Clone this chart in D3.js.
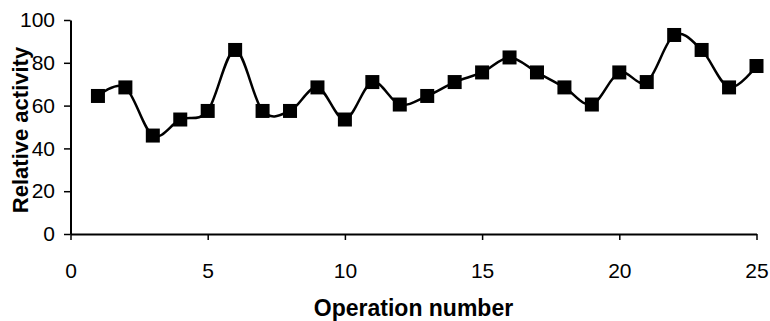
<!DOCTYPE html>
<html>
<head>
<meta charset="utf-8">
<script src="https://cdn.jsdelivr.net/npm/d3@7"></script>
<style>
  html, body { margin: 0; padding: 0; background: #fff; }
  svg { display: block; }
</style>
</head>
<body>
<svg id="chart" width="770" height="321"></svg>
<script>
const operations = [1,2,3,4,5,6,7,8,9,10,11,12,13,14,15,16,17,18,19,20,21,22,23,24,25];
const activity = [64.5,68.5,46,53.5,57.5,86,57.5,57.5,68.5,53.5,71,60.5,64.5,71,75.5,82.5,75.5,68.5,60.5,75.5,71,93,86,68.5,78.5];
const xTicks = [0,5,10,15,20,25];
const yTicks = [0,20,40,60,80,100];
const xTitle = "Operation number";
const yTitle = "Relative activity";

(function () {
const data = operations.map((o, i) => ({x: o, y: activity[i]}));

const svg = d3.select("#chart");
const pLeft = 70.5, pRight = 756.5, pTop = 20, pBottom = 234;

const x = d3.scaleLinear().domain([0, 25]).range([pLeft, pRight]);
const y = d3.scaleLinear().domain([0, 100]).range([pBottom, pTop]);

const font = "'Liberation Sans', Arial, sans-serif";

const xAxis = svg.append("g")
  .attr("transform", `translate(0,${pBottom})`)
  .call(d3.axisBottom(x).tickValues(xTicks).tickSize(6).tickPadding(23).tickSizeOuter(0).tickFormat(d3.format("d")));
const yAxis = svg.append("g")
  .attr("transform", `translate(${pLeft},0)`)
  .call(d3.axisLeft(y).tickValues(yTicks).tickSize(6.5).tickPadding(9).tickSizeOuter(0).tickFormat(d3.format("d")));

[xAxis, yAxis].forEach(g => {
  g.select(".domain").attr("stroke", "#000").attr("stroke-width", 2);
  g.selectAll(".tick line").attr("stroke", "#000").attr("stroke-width", 1.5);
  g.selectAll(".tick text").attr("fill", "#000").style("font-family", font).style("font-size", "21px");
});

const line = d3.line()
  .x(d => x(d.x))
  .y(d => y(d.y))
  .curve(d3.curveCardinal.tension(0));

svg.append("path")
  .datum(data)
  .attr("fill", "none")
  .attr("stroke", "#000")
  .attr("stroke-width", 2.5)
  .attr("d", line);

const s = 14;
svg.append("g").selectAll("rect")
  .data(data)
  .join("rect")
  .attr("x", d => x(d.x) - s / 2)
  .attr("y", d => y(d.y) - s / 2)
  .attr("width", s)
  .attr("height", s)
  .attr("fill", "#000");

svg.append("text")
  .attr("x", (pLeft + pRight) / 2)
  .attr("y", 315.5)
  .attr("text-anchor", "middle")
  .style("font-family", font)
  .style("font-weight", "bold")
  .style("font-size", "23px")
  .text(xTitle);

svg.append("text")
  .attr("transform", `translate(28,130) rotate(-90)`)
  .attr("text-anchor", "middle")
  .style("font-family", font)
  .style("font-weight", "bold")
  .style("font-size", "22px")
  .text(yTitle);
})();
</script>
</body>
</html>
